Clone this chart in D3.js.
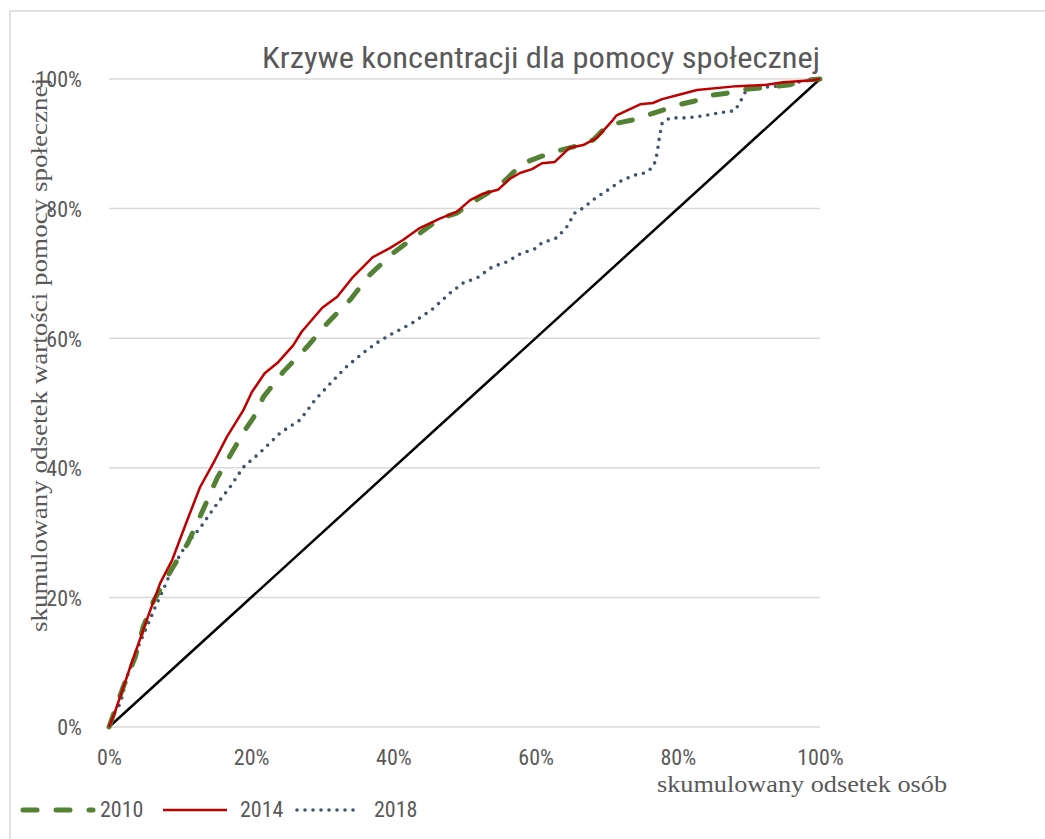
<!DOCTYPE html>
<meta charset="utf-8">
<script src="https://cdn.jsdelivr.net/npm/d3@7/dist/d3.min.js"></script>
<style>
  body { margin: 0; background: #fff; }
  .lbl { font-family: "Liberation Sans Narrow", "Roboto Condensed", "Noto Sans", sans-serif; fill: #595959; }
  .ser { font-family: "Liberation Serif", "DejaVu Serif", serif; fill: #595959; }
</style>
<svg width="1045" height="839"></svg>
<script>
var title = "Krzywe koncentracji dla pomocy społecznej";
var xTitle = "skumulowany odsetek osób";
var yTitle = "skumulowany odsetek wartości pomocy społecznej";
var ticks = [0, 20, 40, 60, 80, 100];
var years = ["2010", "2014", "2018"];

// values, in percent
var x2010 = [0, 2.0, 3.7, 4.8, 6.2, 8.9, 11.1, 13.1, 15.2, 17.3, 19.1, 20.3, 21.7, 24.5, 27.8, 30.7, 33.9, 36.7, 39.9, 43.7, 46.6, 48.9, 51.2, 55.0, 58.2, 62.4, 66.2, 68.1, 70.2, 73.7, 75.7, 77.9, 80.0, 82.4, 84.1, 86.9, 88.5, 91.6, 93.2, 95.8, 97.2, 100];
var y2010 = [0, 6.2, 10.8, 15.4, 19.3, 24.5, 28.4, 33.2, 38.4, 42.4, 45.8, 47.7, 50.9, 54.8, 58.6, 62.3, 65.9, 69.8, 73.1, 76.2, 78.5, 79.3, 81.0, 83.6, 87.0, 88.7, 89.8, 90.6, 92.9, 93.7, 94.4, 95.2, 96.0, 96.6, 97.4, 97.8, 98.3, 98.6, 98.8, 99.1, 99.8, 100];

var x2014 = [0, 0.8, 3.0, 5.3, 7.2, 8.9, 11.0, 12.8, 14.9, 16.6, 18.9, 20.1, 21.9, 23.8, 25.9, 27.1, 30.0, 32.1, 34.2, 37.1, 39.5, 41.4, 43.7, 46.6, 48.9, 50.8, 52.6, 54.7, 56.4, 57.8, 59.5, 60.9, 62.7, 64.8, 66.7, 68.6, 70.9, 71.4, 74.7, 76.5, 77.8, 79.9, 82.7, 88.3, 92.5, 94.8, 99.0, 100];
var y2014 = [0, 2.2, 9.3, 16.5, 22.2, 25.8, 31.9, 37.0, 41.2, 44.8, 48.9, 51.7, 54.6, 56.3, 58.9, 61.0, 64.7, 66.4, 69.3, 72.5, 73.9, 75.2, 77.0, 78.5, 79.5, 81.3, 82.3, 82.9, 84.6, 85.5, 86.1, 87.0, 87.2, 89.4, 89.8, 90.9, 93.7, 94.4, 96.1, 96.3, 96.9, 97.5, 98.3, 98.9, 99.1, 99.5, 99.8, 100];

var x2018 = [0, 0.4, 1.6, 2.7, 3.9, 5.3, 6.5, 7.6, 9.0, 11.0, 12.8, 14.9, 17.0, 18.9, 21.2, 24.1, 26.9, 29.0, 30.7, 33.2, 35.7, 37.7, 39.5, 42.6, 45.4, 48.0, 49.8, 51.9, 53.9, 56.0, 57.8, 59.9, 60.9, 63.0, 64.4, 65.5, 66.7, 68.4, 70.2, 72.2, 74.3, 75.4, 76.4, 76.8, 77.1, 77.4, 77.8, 78.9, 81.3, 83.5, 85.9, 88.0, 88.7, 89.5, 90.6, 93.0, 95.4, 96.8, 98.6, 100];
var y2018 = [0, 1.5, 3.7, 8.3, 11.9, 15.4, 18.5, 21.1, 24.7, 28.4, 30.7, 34.0, 37.0, 40.1, 42.3, 45.4, 47.4, 50.5, 52.5, 55.4, 57.7, 59.3, 60.5, 62.3, 64.4, 67.0, 68.5, 69.4, 71.0, 71.8, 73.0, 73.8, 74.7, 75.5, 77.2, 79.3, 80.1, 81.6, 82.9, 84.4, 85.3, 85.5, 86.3, 87.2, 88.6, 90.9, 93.2, 94.0, 94.0, 94.3, 94.8, 95.1, 96.3, 98.0, 98.6, 98.8, 99.1, 99.5, 99.8, 100];

var equality = [0, 100];

var svg = d3.select("svg");

// chart frame
svg.append("rect")
  .attr("x", 10).attr("y", 11)
  .attr("width", 1100).attr("height", 900)
  .attr("fill", "none")
  .attr("stroke", "#d9d9d9")
  .attr("stroke-width", 1.5);

var x = d3.scaleLinear().domain([0, 100]).range([109, 820]);
var y = d3.scaleLinear().domain([0, 100]).range([727, 79]);

// gridlines
svg.append("g")
  .selectAll("line")
  .data(ticks)
  .enter()
  .append("line")
  .attr("x1", x(0)).attr("x2", x(100))
  .attr("y1", function(d) { return y(d); })
  .attr("y2", function(d) { return y(d); })
  .attr("stroke", "#d9d9d9")
  .attr("stroke-width", 1.5);

// y tick labels
var yAxis = svg.append("g")
  .attr("transform", "translate(" + (x(0) - 27) + ",0)")
  .call(d3.axisLeft(y).tickValues(ticks).tickSize(0).tickFormat(function(d) { return d + "%"; }));
yAxis.select(".domain").remove();
yAxis.selectAll("text").attr("class", "lbl").attr("font-size", 22).attr("dy", "0.36em").attr("x", 0);

// x tick labels
var xAxis = svg.append("g")
  .attr("transform", "translate(0," + (y(0) + 22) + ")")
  .call(d3.axisBottom(x).tickValues(ticks).tickSize(0).tickFormat(function(d) { return d + "%"; }));
xAxis.select(".domain").remove();
xAxis.selectAll("text").attr("class", "lbl").attr("font-size", 22).attr("dy", "0.71em").attr("y", 0);

var line = d3.line()
  .x(function(d) { return x(d[0]); })
  .y(function(d) { return y(d[1]); });

var styles = {
  "2010": { color: "#548235", width: 5, dash: "14 19", cap: "round" },
  "2014": { color: "#c00000", width: 2.5, dash: null, cap: "butt" },
  "2018": { color: "#44546a", width: 3.6, dash: "0 8", cap: "round" }
};

// equality line
svg.append("path")
  .datum(d3.zip(equality, equality))
  .attr("d", line)
  .attr("fill", "none")
  .attr("stroke", "#000")
  .attr("stroke-width", 2.5);

var seriesData = {
  "2010": d3.zip(x2010, y2010),
  "2014": d3.zip(x2014, y2014),
  "2018": d3.zip(x2018, y2018)
};

["2018", "2010", "2014"].forEach(function(yr) {
  var s = styles[yr];
  svg.append("path")
    .datum(seriesData[yr])
    .attr("d", line)
    .attr("fill", "none")
    .attr("stroke", s.color)
    .attr("stroke-width", s.width)
    .attr("stroke-dasharray", s.dash)
    .attr("stroke-linecap", s.cap)
    .attr("stroke-linejoin", "round");
});

// title
svg.append("text")
  .attr("class", "lbl")
  .attr("x", 262).attr("y", 68)
  .attr("font-size", 30)
  .attr("textLength", 558)
  .attr("lengthAdjust", "spacingAndGlyphs")
  .text(title);

// axis titles
svg.append("text")
  .attr("class", "ser")
  .attr("x", 657).attr("y", 792)
  .attr("font-size", 24)
  .attr("textLength", 290)
  .attr("lengthAdjust", "spacingAndGlyphs")
  .text(xTitle);

svg.append("text")
  .attr("class", "ser")
  .attr("transform", "translate(47,632) rotate(-90)")
  .attr("font-size", 24)
  .attr("textLength", 554)
  .attr("lengthAdjust", "spacingAndGlyphs")
  .text(yTitle);

// legend
var legendX = [23, 163, 297];
var legend = svg.append("g");
years.forEach(function(yr, i) {
  var s = styles[yr];
  legend.append("line")
    .attr("x1", legendX[i]).attr("x2", legendX[i] + (i == 0 ? 70 : 64))
    .attr("y1", 810).attr("y2", 810)
    .attr("stroke", s.color)
    .attr("stroke-width", s.width)
    .attr("stroke-dasharray", s.dash)
    .attr("stroke-linecap", s.cap);
  legend.append("text")
    .attr("class", "lbl")
    .attr("x", legendX[i] + 77).attr("y", 817)
    .attr("font-size", 22)
    .text(yr);
});
</script>
